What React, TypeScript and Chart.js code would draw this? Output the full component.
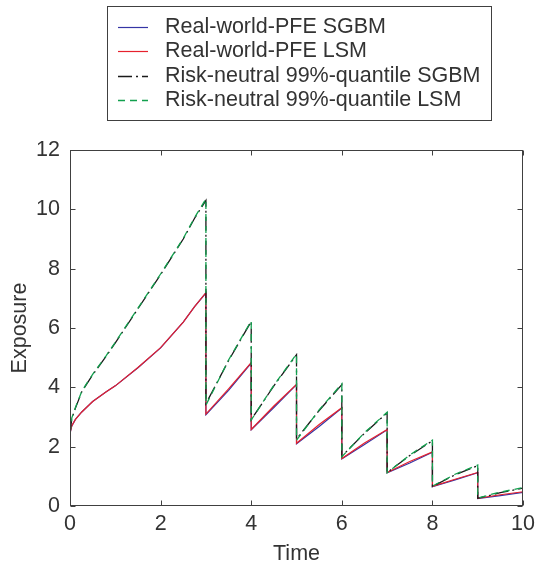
import React, { useEffect, useRef } from 'react';
import { Chart, registerables } from 'chart.js';

Chart.register(...registerables);

// ---- Data ----
const times = [0, 0.04, 0.12, 0.26, 0.5, 0.8, 1, 1.5, 2, 2.5, 2.75, 3, 3, 3.5, 4, 4, 4.5, 5, 5, 5.5, 6, 6, 6.5, 7, 7, 7.5, 8, 8, 8.5, 9, 9, 9.5, 10, 10];

const pfeSGBM = [2.45, 2.7, 2.92, 3.17, 3.52, 3.85, 4.05, 4.66, 5.33, 6.2, 6.72, 7.18, 3.08, 3.9, 4.82, 2.57, 3.32, 4.09, 2.1, 2.68, 3.3, 1.59, 2.07, 2.57, 1.12, 1.45, 1.81, 0.65, 0.88, 1.12, 0.25, 0.35, 0.46, 0];
const pfeLSM = [2.45, 2.71, 2.92, 3.17, 3.52, 3.85, 4.05, 4.67, 5.34, 6.2, 6.72, 7.19, 3.1, 3.95, 4.83, 2.58, 3.37, 4.1, 2.12, 2.75, 3.31, 1.6, 2.12, 2.58, 1.13, 1.5, 1.82, 0.66, 0.9, 1.13, 0.26, 0.38, 0.48, 0];
const q99SGBM = [2.45, 2.95, 3.3, 3.85, 4.42, 5.05, 5.5, 6.65, 7.8, 9.0, 9.7, 10.3, 3.45, 4.9, 6.22, 2.91, 4.05, 5.1, 2.26, 3.22, 4.09, 1.68, 2.45, 3.14, 1.13, 1.7, 2.2, 0.66, 1.05, 1.36, 0.26, 0.45, 0.6, 0];
const q99LSM = [2.45, 2.97, 3.32, 3.87, 4.44, 5.07, 5.52, 6.67, 7.82, 9.02, 9.72, 10.35, 3.4, 4.92, 6.24, 2.9, 4.07, 5.12, 2.22, 3.24, 4.12, 1.66, 2.47, 3.16, 1.12, 1.72, 2.22, 0.67, 1.07, 1.38, 0.27, 0.47, 0.62, 0];

const seriesLabels = [
  'Real-world-PFE SGBM',
  'Real-world-PFE LSM',
  'Risk-neutral 99%-quantile SGBM',
  'Risk-neutral 99%-quantile LSM',
];
const xTickValues = [0, 2, 4, 6, 8, 10];
const yTickValues = [0, 2, 4, 6, 8, 10, 12];
const xTitle = 'Time';
const yTitle = 'Exposure';

// ---- Styles ----
const FONT = "'Liberation Sans', Arial, Helvetica, sans-serif";
const FONT_SIZE = 21.5;
const AXIS = '#404040';
const TEXT = '#333333';
const COLORS = ['#3535a5', '#e6212d', '#1a1a1a', '#12a04e'];
const DASHES: number[][] = [[], [], [14, 4, 2, 4], [7, 5]];

const toPoints = (ys: number[]) => times.map((t, i) => ({ x: t, y: ys[i] }));

const framePlugin = {
  id: 'matlabFrame',
  afterDatasetsDraw(chart: any) {
    const { ctx, chartArea, scales } = chart;
    const { left, right, top, bottom } = chartArea;
    const x = scales.x;
    const y = scales.y;
    ctx.save();
    ctx.setLineDash([]);
    ctx.strokeStyle = AXIS;
    ctx.lineWidth = 1;
    const L = Math.round(left) + 0.5;
    const R = Math.round(right) - 0.5;
    const T = Math.round(top) + 0.5;
    const B = Math.round(bottom) - 0.5;
    ctx.strokeRect(L, T, R - L, B - T);
    const tl = 5;
    ctx.beginPath();
    for (const t of x.ticks) {
      const px = Math.round(x.getPixelForValue(t.value)) + 0.5;
      ctx.moveTo(px, B);
      ctx.lineTo(px, B - tl);
      ctx.moveTo(px, T);
      ctx.lineTo(px, T + tl);
    }
    for (const t of y.ticks) {
      const py = Math.round(y.getPixelForValue(t.value)) + 0.5;
      ctx.moveTo(L, py);
      ctx.lineTo(L + tl, py);
      ctx.moveTo(R, py);
      ctx.lineTo(R - tl, py);
    }
    ctx.stroke();
    ctx.restore();
  },
};

const legendPlugin = {
  id: 'boxedLegend',
  afterDraw(chart: any) {
    const ctx = chart.ctx;
    ctx.save();
    ctx.setLineDash([]);
    ctx.strokeStyle = AXIS;
    ctx.lineWidth = 1;
    ctx.fillStyle = '#ffffff';
    ctx.fillRect(107.5, 6.5, 384, 114);
    ctx.strokeRect(107.5, 6.5, 384, 114);
    ctx.font = `${FONT_SIZE}px ${FONT}`;
    ctx.textBaseline = 'middle';
    ctx.textAlign = 'left';
    chart.data.datasets.forEach((ds: any, i: number) => {
      const yy = Math.round(26.5 + i * 24.5) + 0.5;
      ctx.strokeStyle = ds.borderColor;
      ctx.lineWidth = ds.borderWidth;
      ctx.setLineDash(ds.borderDash || []);
      ctx.beginPath();
      ctx.moveTo(118, yy);
      ctx.lineTo(148, yy);
      ctx.stroke();
      ctx.setLineDash([]);
      ctx.fillStyle = TEXT;
      ctx.fillText(ds.label, 165, yy);
    });
    ctx.restore();
  },
};

export default function App() {
  const canvasRef = useRef<HTMLCanvasElement | null>(null);

  useEffect(() => {
    document.body.style.margin = '0';
    const canvas = canvasRef.current;
    if (!canvas) return;
    const seriesValues = [pfeSGBM, pfeLSM, q99SGBM, q99LSM];
    const orders = [3, 2, 1, 0];
    const chart = new Chart(canvas, {
      type: 'line',
      data: {
        datasets: seriesValues.map((vals, i) => ({
          label: seriesLabels[i],
          data: toPoints(vals),
          borderColor: COLORS[i],
          backgroundColor: COLORS[i],
          borderWidth: i < 2 ? 1.2 : 1.3,
          borderDash: DASHES[i],
          pointRadius: 0,
          pointHoverRadius: 0,
          tension: 0,
          fill: false,
          order: orders[i],
        })),
      },
      options: {
        responsive: false,
        animation: false,
        devicePixelRatio: 1,
        events: [],
        layout: { padding: { top: 150, right: 12, left: 0, bottom: 0 } },
        plugins: {
          legend: { display: false },
          tooltip: { enabled: false },
          title: { display: false },
        },
        scales: {
          x: {
            type: 'linear',
            min: 0,
            max: 10,
            afterBuildTicks: (s: any) => {
              s.ticks = xTickValues.map((v) => ({ value: v }));
            },
            afterFit: (s: any) => {
              s.height = 61;
            },
            grid: { display: false, drawTicks: false },
            border: { display: false },
            ticks: {
              padding: 5,
              color: TEXT,
              font: { family: FONT, size: FONT_SIZE },
              maxRotation: 0,
            },
            title: {
              display: true,
              text: xTitle,
              color: TEXT,
              font: { family: FONT, size: FONT_SIZE },
              padding: { top: 0, bottom: 0 },
            },
          },
          y: {
            type: 'linear',
            min: 0,
            max: 12,
            afterBuildTicks: (s: any) => {
              s.ticks = yTickValues.map((v) => ({ value: v }));
            },
            afterFit: (s: any) => {
              s.width = 70;
            },
            grid: { display: false, drawTicks: false },
            border: { display: false },
            ticks: {
              padding: 10,
              color: TEXT,
              font: { family: FONT, size: FONT_SIZE },
            },
            title: {
              display: true,
              text: yTitle,
              color: TEXT,
              font: { family: FONT, size: FONT_SIZE },
              padding: { top: 7, bottom: 0 },
            },
          },
        },
      },
      plugins: [framePlugin, legendPlugin],
    });
    return () => chart.destroy();
  }, []);

  return (
    <div style={{ width: 540, height: 567, background: '#ffffff' }}>
      <canvas ref={canvasRef} width={540} height={567} style={{ display: 'block' }} />
    </div>
  );
}
